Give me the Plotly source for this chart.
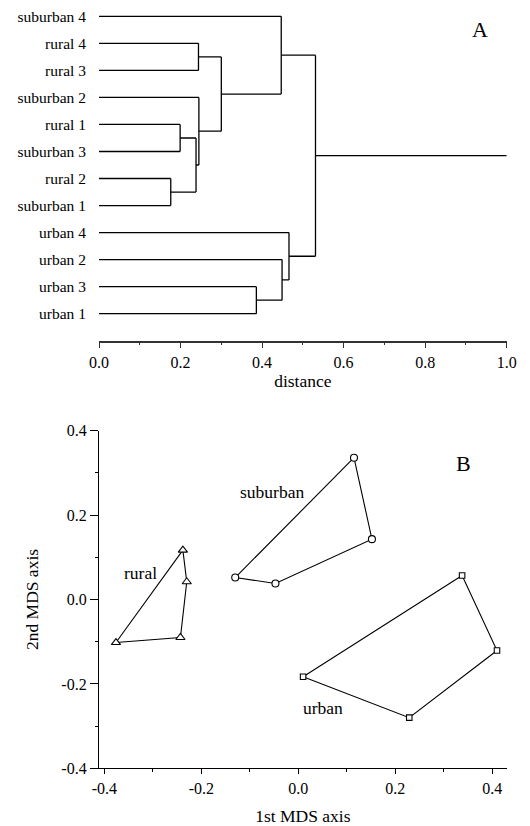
import plotly.graph_objects as go

# ---------------- Data ----------------
# Panel A: dendrogram (leaf order top -> bottom)
leaves = ["suburban 4", "rural 4", "rural 3", "suburban 2", "rural 1", "suburban 3",
          "rural 2", "suburban 1", "urban 4", "urban 2", "urban 3", "urban 1"]
# merges: (left child, right child, distance); children are leaf names or merge ids "m#"
merge_left = ["rural 2", "rural 1", "m2", "suburban 2", "rural 4", "m5", "suburban 4",
              "urban 3", "urban 2", "urban 4", "m7"]
merge_right = ["suburban 1", "suburban 3", "m1", "m3", "rural 3", "m4", "m6",
               "urban 1", "m8", "m9", "m10"]
merge_height = [0.176, 0.199, 0.238, 0.245, 0.244, 0.300, 0.447,
                0.386, 0.449, 0.466, 0.531]
root_end = 1.0
dist_ticks = [0.0, 0.2, 0.4, 0.6, 0.8, 1.0]

# Panel B: MDS ordination (polygon vertices in order)
rural_x = [-0.238, -0.230, -0.243, -0.376]
rural_y = [0.117, 0.042, -0.090, -0.102]
suburban_x = [0.115, 0.152, -0.047, -0.130]
suburban_y = [0.336, 0.143, 0.038, 0.052]
urban_x = [0.338, 0.410, 0.229, 0.010]
urban_y = [0.057, -0.121, -0.280, -0.183]
group_labels = ["rural", "suburban", "urban"]
group_label_x = [-0.325, -0.054, 0.052]
group_label_y = [0.063, 0.255, -0.258]
mds_ticks = [-0.4, -0.2, 0.0, 0.2, 0.4]

FONT = "Liberation Serif, Times New Roman, Times, serif"
# the page body has an 8px margin, so the figure is drawn from (8, 8) in the window
OFF = 8
W, H = 530 - OFF, 826 - OFF

# ---------------- Dendrogram geometry ----------------
n = len(leaves)
ypos = {name: n - i for i, name in enumerate(leaves)}  # top leaf = 12, bottom = 1
hpos = {name: 0.0 for name in leaves}
lx, ly = [], []
for k, (a, b, h) in enumerate(zip(merge_left, merge_right, merge_height), start=1):
    for c in (a, b):
        lx += [hpos[c], h, None]
        ly += [ypos[c], ypos[c], None]
    lx += [h, h, None]
    ly += [ypos[a], ypos[b], None]
    mid = f"m{k}"
    ypos[mid] = (ypos[a] + ypos[b]) / 2
    hpos[mid] = h
root = f"m{len(merge_height)}"
lx += [hpos[root], root_end]
ly += [ypos[root], ypos[root]]

fig = go.Figure()
fig.add_trace(go.Scatter(x=lx, y=ly, mode="lines", line=dict(color="black", width=1.3),
                         xaxis="x", yaxis="y", showlegend=False, hoverinfo="skip",
                         cliponaxis=False))

def closed(v):
    return list(v) + [v[0]]

for gx, gy, sym, sz in [(rural_x, rural_y, "triangle-up", 8),
                        (suburban_x, suburban_y, "circle", 7),
                        (urban_x, urban_y, "square", 5.5)]:
    fig.add_trace(go.Scatter(x=closed(gx), y=closed(gy), mode="lines",
                             line=dict(color="black", width=1.1),
                             xaxis="x2", yaxis="y2", showlegend=False, hoverinfo="skip"))
    fig.add_trace(go.Scatter(x=gx, y=gy, mode="markers",
                             marker=dict(symbol=sym, size=sz, color="white",
                                         line=dict(width=1.1, color="black")),
                             xaxis="x2", yaxis="y2", showlegend=False))

# ---------------- Layout (reference pixel positions, shifted by OFF) ----------------
def fx(px):
    return (px - OFF) / W

def fy(py):
    return (H - (py - OFF)) / H

xl, xr = fx(99.0), fx(506.7)
a_bot, a_top = fy(340.7), 1.0
leaf_step = 27.03
a_range_top = (340.7 - OFF) / leaf_step
b_bot, b_top = fy(768.3), fy(430.7)

tickfont = dict(family=FONT, size=16, color="black")
leaffont = dict(family=FONT, size=15.5, color="black")
titlefont = dict(family=FONT, size=17.5, color="black")

fig.update_layout(
    width=W, height=H, margin=dict(l=0, r=0, t=0, b=0),
    paper_bgcolor="white", plot_bgcolor="white",
    font=dict(family=FONT, size=16, color="black"),
    xaxis=dict(domain=[xl, xr], anchor="y", range=[0, 1.0], showgrid=False, zeroline=False,
               showline=True, linecolor="#333", linewidth=1.5, ticks="outside", ticklen=6,
               tickwidth=1.2, tickcolor="#333", tickvals=dist_ticks,
               ticktext=[f"{v:.1f}" for v in dist_ticks], tickfont=tickfont,
               ticklabeloverflow="allow",
               minor=dict(ticks="outside", ticklen=3, tickwidth=1.2, tickcolor="#333", dtick=0.1),
               title=dict(text="distance", font=titlefont, standoff=5),
               automargin=False),
    yaxis=dict(domain=[a_bot, a_top], anchor="x", range=[0, a_range_top], showgrid=False,
               zeroline=False, showline=False, ticks="", ticklabelstandoff=12,
               ticklabeloverflow="allow",
               tickvals=[ypos[l] for l in leaves], ticktext=leaves,
               tickfont=leaffont, automargin=False),
    xaxis2=dict(domain=[xl, xr], anchor="y2", range=[-0.411, 0.430], showgrid=False,
                zeroline=False, showline=True, linecolor="black", linewidth=1.3,
                ticks="outside", ticklen=5, tickwidth=1.2, tickcolor="black",
                tickvals=mds_ticks, ticktext=[f"{v:.1f}" for v in mds_ticks],
                tickfont=tickfont, ticklabeloverflow="allow",
                minor=dict(ticks="outside", ticklen=3, tickwidth=1.2, tickcolor="black", dtick=0.1, tick0=0),
                title=dict(text="1st MDS axis", font=titlefont, standoff=16),
                automargin=False),
    yaxis2=dict(domain=[b_bot, b_top], anchor="x2", range=[-0.4, 0.4], showgrid=False,
                zeroline=False, showline=True, linecolor="black", linewidth=1.3,
                ticks="outside", ticklen=8, tickwidth=1.2, tickcolor="black",
                tickvals=mds_ticks, ticktext=[f"{v:.1f}" for v in mds_ticks],
                tickfont=tickfont, ticklabeloverflow="allow",
                minor=dict(ticks="outside", ticklen=3, tickwidth=1.2, tickcolor="black", dtick=0.1, tick0=0),
                title=dict(text="2nd MDS axis", font=titlefont, standoff=18),
                automargin=False),
)

annots = [dict(text="A", x=0.934, y=11.5, xref="x", yref="y", showarrow=False,
               font=dict(family=FONT, size=22)),
          dict(text="B", x=0.341, y=0.322, xref="x2", yref="y2", showarrow=False,
               font=dict(family=FONT, size=22))]
for t, x, y in zip(group_labels, group_label_x, group_label_y):
    annots.append(dict(text=t, x=x, y=y, xref="x2", yref="y2", showarrow=False,
                       font=dict(family=FONT, size=17.5)))
fig.update_layout(annotations=annots)

fig.write_html("out.html")
